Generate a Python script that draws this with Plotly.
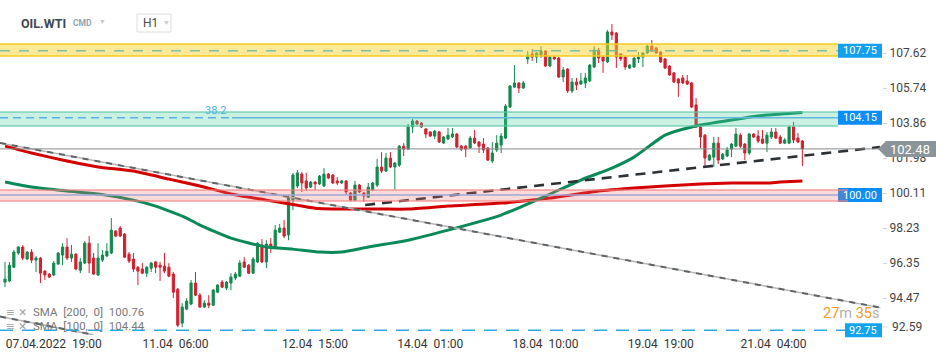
import plotly.graph_objects as go

# ---------------- data ----------------
candle_no = list(range(1, 182))

open_ = [95.33,95.39,96.13,96.89,97.21,96.57,96.94,96.51,96.62,95.92,95.76,95.71,96.30,96.78,97.21,96.62,96.83,95.97,96.35,97.42,
         96.62,95.71,96.51,96.73,96.89,98.07,98.23,97.91,96.83,96.57,96.13,96.03,95.81,96.08,96.41,96.24,96.19,96.13,95.76,94.95,
         93.13,93.88,94.15,95.28,94.63,93.99,94.20,94.09,94.79,95.33,95.01,95.28,95.55,95.65,96.41,96.24,95.81,96.41,97.32,96.41,
         97.37,97.21,98.01,98.23,97.86,99.73,100.49,101.13,100.76,100.43,100.70,100.60,100.49,101.13,101.08,100.76,100.65,100.76,100.11,99.73,
         100.54,100.11,99.89,100.27,100.54,101.51,101.29,101.99,101.51,101.61,102.63,102.47,103.66,103.98,103.87,103.55,103.39,103.17,103.39,102.80,
         103.01,103.12,103.28,102.63,102.63,102.53,103.06,102.85,102.74,102.53,101.83,102.42,102.69,103.06,104.73,105.80,106.02,105.75,107.31,107.58,
         107.41,107.52,107.74,106.93,107.41,107.36,106.34,106.77,105.59,106.07,105.96,106.02,106.13,106.88,107.79,107.41,107.15,108.76,108.70,107.58,
         107.41,106.82,106.88,107.31,107.41,107.63,108.00,107.90,107.68,107.31,106.93,106.56,106.23,106.29,106.13,106.02,104.84,103.66,103.22,101.88,
         102.04,102.79,101.94,102.10,102.47,102.63,103.22,102.74,102.26,103.28,103.17,103.01,102.79,103.12,103.39,103.12,102.79,102.79,103.66,103.06,
         102.90]
high = [96.41,96.41,97.05,97.26,97.32,97.00,97.10,96.73,96.67,95.97,95.81,96.46,96.94,97.42,97.69,97.32,96.89,96.62,97.53,97.80,
        96.89,97.42,97.05,97.42,98.77,98.12,98.34,97.96,96.94,96.89,96.18,96.35,96.18,96.41,96.46,96.41,96.89,96.35,95.87,95.01,
        94.20,94.47,95.44,95.87,94.74,94.36,94.63,94.95,95.23,95.44,95.39,95.81,95.87,96.51,96.67,96.30,96.67,97.48,97.64,97.58,
        97.69,98.39,98.45,98.66,100.00,101.19,101.35,101.24,101.19,100.76,100.76,101.08,101.45,101.19,101.13,100.97,100.81,100.81,100.17,100.76,
        100.60,100.17,100.65,100.70,101.94,102.31,102.26,102.31,101.78,102.69,102.79,103.82,104.09,104.03,103.92,103.60,103.44,103.49,103.44,103.17,
        103.60,103.60,103.33,102.69,102.69,103.17,103.49,102.90,103.06,102.58,102.85,103.22,103.33,104.89,105.91,106.98,106.07,106.13,107.74,107.84,
        107.67,108.00,107.79,107.47,107.47,107.41,106.88,106.82,106.29,106.29,106.56,106.56,107.04,108.00,107.90,107.47,108.86,109.19,108.76,107.63,
        107.47,107.04,107.41,107.68,107.68,108.06,108.33,107.95,107.74,107.36,106.98,106.61,106.29,106.45,106.45,106.07,105.21,103.71,103.28,102.20,
        103.12,103.12,102.26,102.58,102.79,103.60,103.33,102.79,103.33,103.33,103.49,103.49,103.39,103.60,103.60,103.22,103.06,103.71,103.92,103.33,
        102.96]
low = [95.06,95.33,96.08,96.78,96.51,96.51,96.35,95.87,95.28,95.44,95.55,95.65,96.24,96.24,96.51,96.41,95.97,95.81,96.30,95.81,
       95.71,95.65,96.41,96.67,96.83,97.75,97.75,96.62,96.35,95.87,95.17,95.76,95.60,95.87,95.81,95.39,95.81,95.60,94.47,92.91,
       92.91,93.82,94.09,94.58,93.95,93.93,93.93,94.04,94.74,95.01,94.90,94.90,95.44,95.60,96.08,95.76,95.76,96.35,96.35,96.08,
       96.89,97.16,97.96,97.69,97.58,99.20,100.38,100.17,100.22,100.38,100.27,100.54,100.43,100.86,100.60,100.54,100.60,100.00,99.68,99.68,
       100.11,99.63,99.84,100.22,100.43,101.19,101.24,101.45,100.27,101.51,102.10,102.42,103.33,103.76,103.60,103.06,103.12,103.01,102.80,102.74,
       102.96,103.06,102.53,102.36,102.04,102.50,102.74,102.26,102.26,101.83,101.72,102.31,102.26,103.01,104.68,105.75,105.48,105.70,107.04,107.20,
       107.09,107.36,106.88,106.88,107.25,106.29,106.07,105.48,105.48,105.64,105.91,105.75,106.07,106.82,107.09,106.56,107.09,108.33,106.82,107.20,
       106.72,106.77,106.82,107.09,106.88,107.58,107.68,107.58,107.09,106.77,106.40,106.02,105.27,105.96,105.91,104.68,103.60,102.53,101.51,101.83,
       101.51,101.67,101.88,102.04,102.04,102.58,102.53,101.88,102.15,103.06,102.79,102.74,102.31,103.01,103.01,102.74,102.74,102.74,102.79,102.79,
       101.56]
close = [95.49,96.24,96.94,97.21,96.62,96.94,96.51,96.62,95.81,95.71,95.60,96.35,96.89,97.21,96.62,96.83,96.03,96.41,97.42,96.35,
         95.76,96.62,96.78,96.99,98.12,97.80,97.80,96.67,96.46,96.03,95.92,95.81,96.13,96.35,96.13,96.13,95.92,95.65,94.79,93.02,
         93.99,94.31,95.28,94.63,93.99,94.20,94.09,94.90,95.17,95.06,95.33,95.60,95.76,96.35,96.13,95.81,96.57,97.42,96.41,97.37,
         97.16,98.12,98.23,97.80,99.84,101.08,101.19,100.65,100.38,100.70,100.60,101.02,101.13,100.92,100.65,100.65,100.76,100.17,99.73,100.54,
         100.17,99.95,100.43,100.65,101.51,101.29,101.99,101.51,101.72,102.63,102.47,103.66,103.98,103.82,103.66,103.28,103.17,103.44,102.85,103.12,
         103.22,103.28,102.58,102.47,102.47,103.06,102.80,102.63,102.42,101.88,102.26,102.79,103.17,104.78,105.86,106.02,105.75,106.02,107.52,107.41,
         107.63,107.74,106.93,107.41,107.31,106.34,106.72,105.59,106.07,105.91,106.13,106.29,106.98,107.79,107.36,107.20,108.76,108.60,107.41,107.31,
         106.88,106.98,107.36,107.41,107.63,108.00,107.74,107.63,107.15,106.82,106.45,106.07,106.02,106.02,105.96,104.73,103.66,103.12,101.99,102.15,
         102.79,101.88,102.20,102.42,102.74,103.28,102.63,102.26,103.28,103.12,102.90,102.79,103.22,103.39,103.06,102.79,102.96,103.66,102.96,102.85,
         102.48]

sma100_idx = [1,7,15,22,30,35,42,45,52,60,66,72,77,83,87,92,101,113,123,131,138,143,150,156,165,173,181]
sma100 = [100.70,100.43,100.22,100.06,99.73,99.41,98.77,98.39,97.69,97.21,97.10,96.94,96.94,97.21,97.37,97.58,98.12,98.93,99.95,100.81,101.45,102.04,103.22,103.66,104.03,104.30,104.44]
sma200_idx = [1,7,15,22,30,38,45,52,60,68,71,79,86,92,101,113,124,135,143,150,158,165,173,176,181]
sma200 = [102.63,102.26,101.83,101.51,101.29,100.86,100.49,100.06,99.73,99.41,99.30,99.25,99.25,99.25,99.41,99.57,99.84,100.22,100.38,100.49,100.60,100.65,100.65,100.70,100.76]

support_idx = [82.3, 198.5]
support_val = [99.47, 102.58]
resist_idx = [-0.13, 198.6]
resist_val = [102.80, 93.96]
channel_idx = [-0.13, 21]
channel_val = [93.48, 92.50]

tick_pos = [12, 39.5, 71, 97, 123, 149, 174.5]
tick_text = ["07.04.2022  19:00", "11.04  06:00", "12.04  15:00", "14.04  01:00",
             "18.04  10:00", "19.04  19:00", "21.04  04:00"]
price_ticks = [107.62, 105.74, 103.86, 101.98, 100.11, 98.23, 96.35, 94.47]

level_yellow, band_yellow = 107.75, (107.47, 108.11)
level_green, band_green = 104.15, (103.71, 104.46)
level_pink, band_pink = 100.00, (99.68, 100.27)
level_blue = 92.75
last_price = 102.48

# ---------------- geometry ----------------
W, H = 950, 358
PW, PH = 882, 335
Y0, Y1 = 92.49, 110.475
X0, X1 = -0.13, 198.97

def px(xp):
    return xp / PW

def py(yp):
    return 1 - yp / PH

def pp(price):
    return (price - Y0) / (Y1 - Y0)

GREEN = "#13894f"
RED = "#d2202f"
FONT = "Roboto"

fig = go.Figure()
fig.add_trace(go.Candlestick(
    x=candle_no, open=open_, high=high, low=low, close=close,
    increasing=dict(line=dict(color=GREEN, width=1), fillcolor=GREEN),
    decreasing=dict(line=dict(color=RED, width=1), fillcolor=RED),
    whiskerwidth=0, hoverinfo="skip", showlegend=False))

fig.add_trace(go.Scatter(x=sma200_idx, y=sma200, mode="lines",
                         line=dict(color="#d40000", width=3, shape="spline", smoothing=0.5),
                         hoverinfo="skip", showlegend=False))
fig.add_trace(go.Scatter(x=sma100_idx, y=sma100, mode="lines",
                         line=dict(color="#0b8a59", width=3, shape="spline", smoothing=0.5),
                         hoverinfo="skip", showlegend=False))

for xs, ys in [(resist_idx, resist_val), (channel_idx, channel_val)]:
    fig.add_trace(go.Scatter(x=xs, y=ys, mode="lines", line=dict(color="#b5b5b5", width=1.5),
                             hoverinfo="skip", showlegend=False))
    fig.add_trace(go.Scatter(x=xs, y=ys, mode="lines", line=dict(color="#5f6468", width=2, dash="6px,6px"),
                             hoverinfo="skip", showlegend=False))
fig.add_trace(go.Scatter(x=support_idx, y=support_val, mode="lines",
                         line=dict(color="#2b3135", width=2.6, dash="10px,7px"),
                         hoverinfo="skip", showlegend=False))

shapes = []
def box(level, x0p, color):
    half = 7 / PH
    shapes.append(dict(type="rect", xref="paper", yref="paper", x0=px(x0p), x1=1.0,
                       y0=pp(level) - half, y1=pp(level) + half, fillcolor=color,
                       line=dict(width=0), layer="above"))

box(level_yellow, 838, "#12a0ef")
box(level_green, 838, "#0a8df5")
box(level_pink, 838, "#0a8df5")
box(level_blue, 845, "#12a5ec")

def band(lo, hi, fill, border, x1p):
    shapes.append(dict(type="rect", xref="paper", yref="y", x0=0, x1=px(x1p), y0=lo, y1=hi,
                       fillcolor=fill, line=dict(width=0), layer="above"))
    for v in (lo, hi):
        shapes.append(dict(type="line", xref="paper", yref="y", x0=0, x1=px(x1p), y0=v, y1=v,
                           line=dict(color=border, width=1.5), layer="above"))

band(*band_yellow, "rgba(251,212,50,0.5)", "#f4cc1c", 838)
band(*band_green, "rgba(80,205,160,0.30)", "rgba(90,200,165,0.75)", 838)
band(*band_pink, "rgba(245,112,112,0.26)", "rgba(240,130,130,0.75)", 848)

def hline(level, x0p, x1p, color, width, dash="solid"):
    shapes.append(dict(type="line", xref="paper", yref="y", x0=px(x0p), x1=px(x1p), y0=level, y1=level,
                       line=dict(color=color, width=width, dash=dash), layer="above"))

hline(level_yellow, 0, 838, "rgba(110,185,150,0.85)", 1.5, "10px,9px")
hline(level_green, 0, 232, "#56b3e3", 1.5, "8px,5px")
hline(level_green, 232, 838, "#62b8e0", 1.5)
hline(level_pink, 0, 838, "#9ea8dd", 1.5)
hline(level_blue, 0, 845, "#2aa8e4", 1.5, "13px,9px")
hline(last_price, 0, 879, "#8a8a8a", 1)

yc = pp(last_price)
hh = 8 / PH
shapes.append(dict(type="path", xref="paper", yref="paper", layer="above",
                   path=f"M {px(878)},{yc} L {px(886)},{yc+hh} L {px(936)},{yc+hh} L {px(936)},{yc-hh} L {px(886)},{yc-hh} Z",
                   fillcolor="#8b9499", line=dict(width=0)))
shapes.append(dict(type="line", xref="paper", yref="paper", x0=px(883), x1=px(887),
                   y0=py(327), y1=py(327), line=dict(color="#d6d6d6", width=1)))
shapes.append(dict(type="rect", xref="paper", yref="paper", x0=px(137), x1=px(171),
                   y0=py(32), y1=py(14), fillcolor="white", line=dict(color="#dedede", width=1)))

annotations = []
def ann(text, xp, yp, size, color, xanchor="left", family=FONT):
    annotations.append(dict(text=text, xref="paper", yref="paper", x=px(xp), y=py(yp),
                            xanchor=xanchor, yanchor="middle", showarrow=False,
                            font=dict(size=size, color=color, family=family)))

ann("<b>OIL.WTI</b>", 19, 23, 12.5, "#3d4650")
ann("<b>CMD</b>", 71, 23, 8.5, "#8fa3b0")
ann("▼", 97, 22, 7, "#c8c8c8")
ann("H1", 141, 23, 12, "#4a4a4a")
ann("▼", 161, 23, 7, "#c8c8c8")
ann("38.2", 215, 110, 11, "#45b3ea", xanchor="center")

ann(f"{level_yellow:.2f}", 860, 50.5, 11, "white", xanchor="center")
ann(f"{level_green:.2f}", 860, 118, 11, "white", xanchor="center")
ann(f"{level_pink:.2f}", 860, 195, 11, "white", xanchor="center")
ann(f"{level_blue:.2f}", 863, 330, 11, "white", xanchor="center")
ann(f"{last_price:.2f}", 910, 149, 13, "white", xanchor="center")
ann("92.59", 890, 327, 12, "#444444")

ann('<span style="color:#f39a1e">27</span><span style="color:#b0b0b0">m</span> '
    '<span style="color:#f39a1e">35</span><span style="color:#b0b0b0">s</span>',
    881, 313, 14.5, "#f39a1e", xanchor="right")

ann("≡ ✕", 4, 312, 10.5, "#a0a0a0", family="DejaVu Sans")
ann("≡ ✕", 4, 325.5, 10.5, "#a0a0a0", family="DejaVu Sans")
ann(f"SMA  [200,  0]  {sma200[-1]:.2f}", 31, 312, 11.5, "#7a7a7a")
ann(f"SMA  [100,  0]  {sma100[-1]:.2f}", 31, 325.5, 11.5, "#7a7a7a")

fig.update_layout(
    width=W, height=H,
    margin=dict(l=0, r=W - PW, t=0, b=H - PH),
    paper_bgcolor="white", plot_bgcolor="white",
    font=dict(family=FONT, size=12, color="#444"),
    showlegend=False,
    shapes=shapes, annotations=annotations,
    xaxis=dict(range=[X0, X1], rangeslider=dict(visible=False), showgrid=False, zeroline=False,
               showline=False, tickmode="array", tickvals=tick_pos, ticktext=tick_text,
               ticks="", tickfont=dict(size=12, color="#333"), ticklabelstandoff=0),
    yaxis=dict(range=[Y0, Y1], side="right", showgrid=False, zeroline=False, showline=False,
               tickmode="array", tickvals=price_ticks, ticktext=[f"{v:.2f}" for v in price_ticks],
               ticks="outside", ticklen=4, tickcolor="#d6d6d6", tickfont=dict(size=12, color="#444")),
)

fig.write_html("out.html", config={"displayModeBar": False},
               post_script="document.body.style.margin='0';document.body.style.overflow='hidden';")
